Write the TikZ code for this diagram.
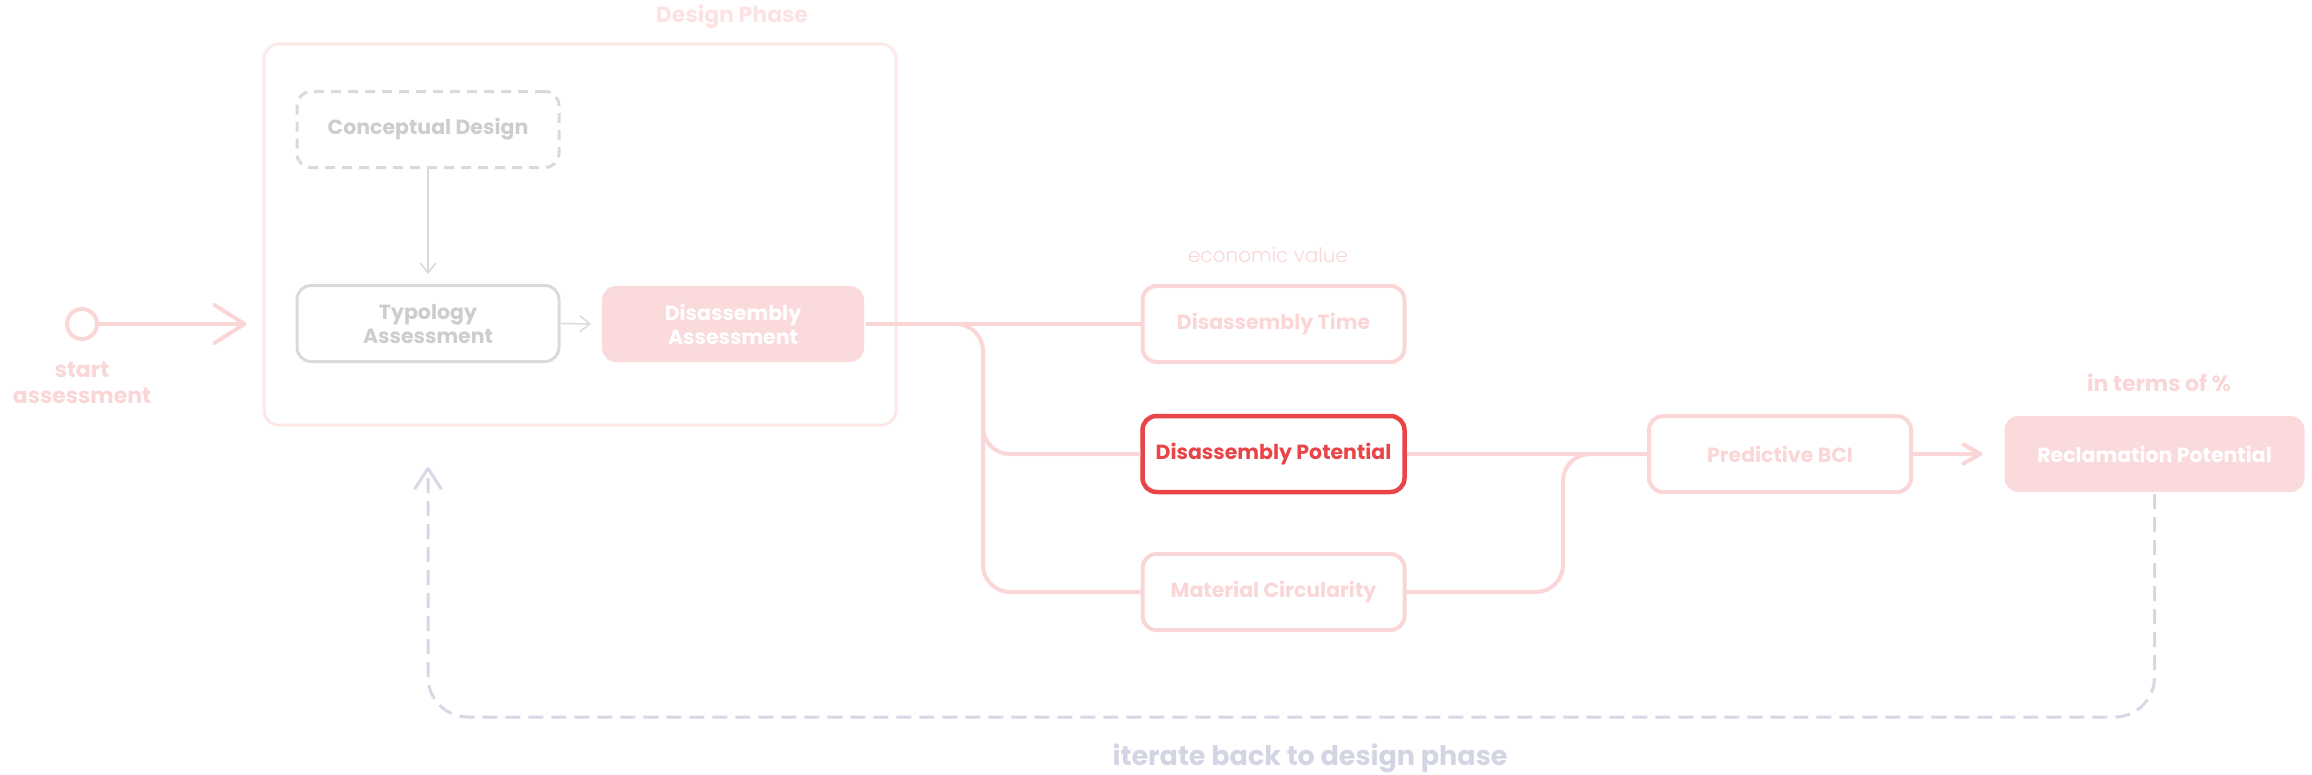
\documentclass[tikz,border=0pt]{standalone}
\usepackage{fontspec}
\setmainfont{Poppins}
\newfontfamily\lightfont{Poppins}[UprightFont={* Light}]
\usetikzlibrary{arrows.meta}
\definecolor{pinkline}{RGB}{250,214,215}
\definecolor{pinkfill}{RGB}{250,218,219}
\definecolor{phaseline}{RGB}{253,232,232}
\definecolor{phasetext}{RGB}{252,226,226}
\definecolor{redline}{RGB}{233,68,72}
\definecolor{greyline}{RGB}{218,218,218}
\definecolor{greytext}{RGB}{205,205,205}
\definecolor{backline}{RGB}{214,216,230}
\definecolor{backtext}{RGB}{211,213,229}

\begin{document}
\begin{tikzpicture}[x=1pt, y=-1pt,
  box/.style={draw=pinkline, line width=4, rounded corners=14, minimum width=262, minimum height=76,
    inner sep=0, align=center, text=pinkline, font=\bfseries\fontsize{20.5}{24}\selectfont},
  fillbox/.style={box, fill=pinkfill, draw=none, text=white},
  greybox/.style={box, draw=greyline, line width=3, text=greytext},
  note/.style={inner sep=0, align=center, text=pinkline, font=\bfseries\fontsize{22}{26}\selectfont},
  link/.style={draw=pinkline, line width=4},
  greyarrow/.style={draw=greyline, line width=1.5, -{Straight Barb[length=10pt,width=16pt]}},
  back/.style={draw=backline, line width=3, dash pattern=on 15pt off 8pt, rounded corners=40,
    -{Straight Barb[length=20pt,width=26pt,round]}}]
\useasboundingbox (0,0) rectangle (2312,774);

% design phase frame
\node[draw=phaseline, line width=3, rounded corners=15, minimum width=632, minimum height=381] (phase) at (580,234.5) {};
\node[note, text=phasetext] (phaselbl) at (732,17) {Design Phase};

% start
\node[circle, draw=pinkline, line width=4, minimum size=30, inner sep=0] (start) at (82,324) {};
\node[note] (startlbl) at (82,383) {start\\assessment};

\node[greybox, dash pattern=on 10pt off 7pt] (concept) at (428,129.5) {Conceptual Design};
\node[greybox] (typo) at (428,323.5) {Typology\\Assessment};
\node[fillbox] (dasm) at (733,324) {Disassembly\\Assessment};

\node[box] (dtime) at (1273.5,324) {Disassembly Time};
\node[box, draw=redline, text=redline, line width=4.5] (dpot) at (1273.5,454) {Disassembly Potential};
\node[box] (mcirc) at (1273.5,592) {Material Circularity};
\node[note, font=\lightfont\fontsize{20}{24}\selectfont] (econ) at (1268,255) {economic value};

\node[box] (bci) at (1780,454) {Predictive BCI};
\node[fillbox, minimum width=300] (recl) at (2154.5,454) {Reclamation Potential};
\node[note] (terms) at (2159,383) {in terms of \%};

\node[note, text=backtext, font=\bfseries\fontsize{27}{32}\selectfont] (iter) at (1310,758) {iterate back to design phase};

% connectors
\coordinate (split) at (983,324);
\coordinate (splitmid) at (983,400);
\coordinate (join) at (1563,454);
\coordinate (loop) at (428,717);
\coordinate (backtip) at (428,467);

\draw[link, -{Straight Barb[length=30pt,width=38pt,round]}, shorten >=16pt] (start.east) -- (phase.west |- start);
\draw[greyarrow, shorten >=10pt] (concept.south) -- (typo.north);
\draw[greyarrow, shorten >=9pt] (typo.east) -- (dasm.west);

\draw[link] (dasm.east) -- (dtime.west);
\draw[link, rounded corners=27] (dasm.east) -| (split |- mcirc.west) -- (mcirc.west);
\draw[link, rounded corners=27] (splitmid) |- (dpot.west);
\draw[link] (dpot.east) -- (bci.west);
\draw[link, rounded corners=27] (mcirc.east) -| (join) -- (bci.west);
\draw[link, -{Straight Barb[length=17pt,width=19pt,round]}, shorten >=20pt] (bci.east) -- (recl.west);

\draw[back] (recl.south) |- (loop) -- (backtip);
\end{tikzpicture}
\end{document}
